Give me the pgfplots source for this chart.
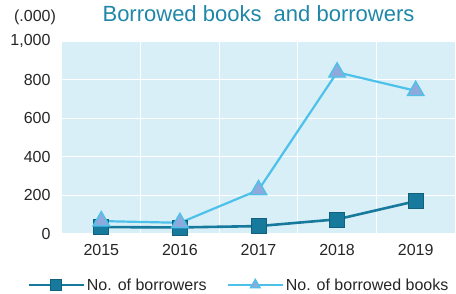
\documentclass[border=0pt]{standalone}
\usepackage{fontspec}
\setmainfont{Liberation Sans}
\usepackage{pgfplots}
\pgfplotsset{compat=1.18}
\definecolor{bgblue}{HTML}{D9EFF8}
\definecolor{borrowers}{HTML}{17799B}
\definecolor{books}{HTML}{4DC1EA}
\definecolor{tri}{HTML}{8EA9DB}
\definecolor{titlec}{HTML}{1F87A8}
\begin{document}
\begin{tikzpicture}
\path[use as bounding box] (-62pt,-59pt) rectangle (394pt,234pt);
\begin{axis}[
  scale only axis,
  width=393pt, height=193pt,
  xmin=0.5, xmax=5.5, ymin=0, ymax=1000,
  xtick={1,2,3,4,5},
  xticklabels={2015,2016,2017,2018,2019},
  minor xtick={1.5,2.5,3.5,4.5},
  ytick={0,200,400,600,800,1000},
  /pgf/number format/1000 sep={,},
  /pgf/number format/assume math mode=true,
  axis background/.style={fill=bgblue},
  axis line style={draw=none},
  major tick length=0pt, minor tick length=0pt,
  ymajorgrids, xminorgrids,
  grid style={white, line width=1.2pt},
  minor grid style={white, line width=1.2pt},
  tick label style={font=\fontsize{16}{19}\selectfont, text=black!85},
  yticklabel style={xshift=-8pt},
  xticklabel style={yshift=-7pt},
  title={Borrowed books\ \ and borrowers},
  title style={at={(0.5,1)}, anchor=base, yshift=14pt, font=\fontsize{22}{26}\selectfont, text=titlec},
  legend columns=2,
  legend style={at={(0.45,-0.264)}, anchor=center, draw=none, fill=none,
    font=\fontsize{16}{19}\selectfont, text=black!85,
    /tikz/every even column/.append style={column sep=18pt}},
  legend image code/.code={\draw[mark repeat=2,mark phase=2,#1,mark size=5.5pt] plot coordinates {(0pt,0pt) (27.5pt,0pt) (55pt,0pt)};},
  clip=false,
]
\addplot[color=borrowers, line width=2.6pt, mark=square*, mark size=7.5pt,
  mark options={fill=borrowers, draw=borrowers!80!black, line width=0.6pt}]
  coordinates {(1,36) (2,34) (3,41) (4,76) (5,170)};
\addlegendentry{No. of borrowers}
\addplot[color=books, line width=2.2pt, mark=triangle*, mark size=9.5pt,
  mark options={fill=tri, draw=books, line width=1.4pt}]
  coordinates {(1,67) (2,58) (3,228) (4,838) (5,742)};
\addlegendentry{No. of borrowed books}
\node[anchor=base, font=\fontsize{16}{19}\selectfont, text=black!85] at ([xshift=-27pt, yshift=20pt]rel axis cs:0,1) {(.000)};
\end{axis}
\end{tikzpicture}
\end{document}
